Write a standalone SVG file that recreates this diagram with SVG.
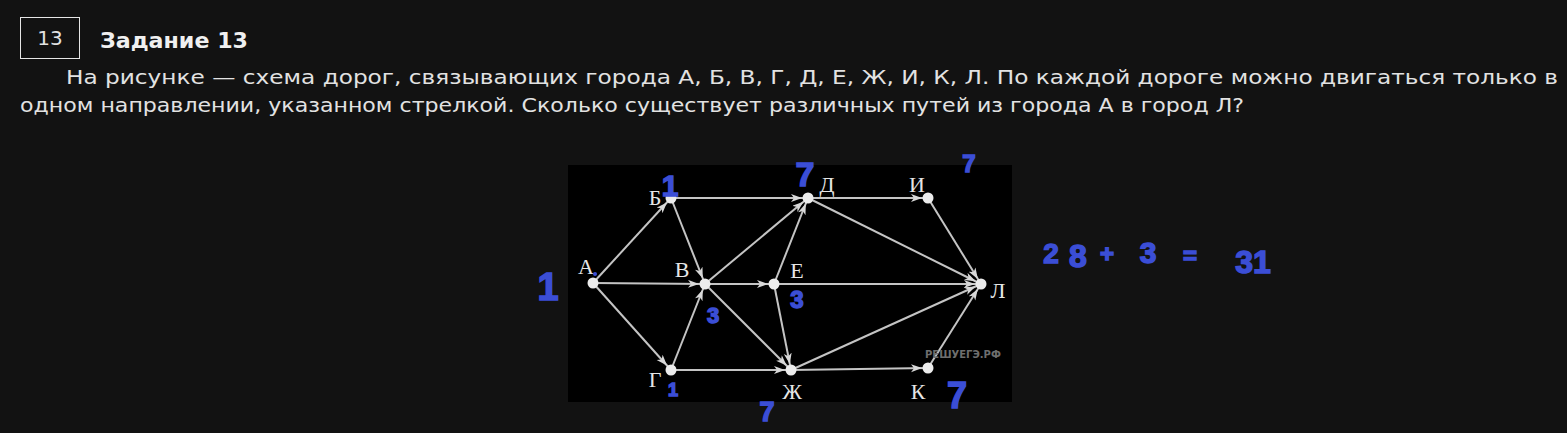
<svg xmlns="http://www.w3.org/2000/svg" width="1567" height="433" viewBox="0 0 1567 433">
<style>
.t{font-family:"DejaVu Sans",Verdana,sans-serif;fill:#e2e2e2;font-size:20px}
.lbl{font-family:"Liberation Serif","Times New Roman",serif;fill:#e6e6e6;font-size:22px;text-anchor:middle}
.e{stroke:#c4c4c4;stroke-width:2;fill:none;marker-end:url(#ar)}
.n{fill:#ececec}
.h{font-family:"Liberation Sans",Arial,sans-serif;fill:#3b4ed6;stroke:#3b4ed6;stroke-width:1.5;font-weight:bold;text-anchor:middle}
</style>
<defs>
<marker id="ar" markerUnits="userSpaceOnUse" markerWidth="20" markerHeight="10" refX="17" refY="4" orient="auto">
<path d="M0,0 L11,4 L0,8 L3,4 Z" fill="#d8d8d8"/>
</marker>
</defs>
<rect width="1567" height="433" fill="#121212"/>
<g id="header">
<rect x="20.5" y="17.5" width="59" height="41" fill="none" stroke="#e6e6e6" stroke-width="1"/>
<text x="50" y="45" class="t" text-anchor="middle" style="font-size:20px">13</text>
<text x="100" y="48" class="t" textLength="148" lengthAdjust="spacingAndGlyphs" style="font-weight:bold;font-size:21px;fill:#f0f0f0">Задание 13</text>
<text x="66" y="84" class="t" textLength="1492" lengthAdjust="spacingAndGlyphs">На рисунке — схема дорог, связывающих города А, Б, В, Г, Д, Е, Ж, И, К, Л. По каждой дороге можно двигаться только в</text>
<text x="20" y="112" class="t" textLength="1224" lengthAdjust="spacingAndGlyphs">одном направлении, указанном стрелкой. Сколько существует различных путей из города А в город Л?</text>
</g>
<rect x="568" y="165" width="444" height="237" fill="#000"/>
<g id="connectors">
<line class="e" x1="593" y1="283" x2="671" y2="198"/>
<line class="e" x1="593" y1="283" x2="705" y2="284"/>
<line class="e" x1="593" y1="283" x2="671" y2="370"/>
<line class="e" x1="671" y1="198" x2="808" y2="198"/>
<line class="e" x1="671" y1="198" x2="705" y2="284"/>
<line class="e" x1="705" y1="284" x2="808" y2="198"/>
<line class="e" x1="705" y1="284" x2="774" y2="284"/>
<line class="e" x1="705" y1="284" x2="791" y2="370"/>
<line class="e" x1="671" y1="370" x2="705" y2="284"/>
<line class="e" x1="671" y1="370" x2="791" y2="370"/>
<line class="e" x1="774" y1="284" x2="808" y2="198"/>
<line class="e" x1="774" y1="284" x2="981" y2="284"/>
<line class="e" x1="774" y1="284" x2="791" y2="370"/>
<line class="e" x1="808" y1="198" x2="928" y2="198"/>
<line class="e" x1="808" y1="198" x2="981" y2="284"/>
<line class="e" x1="928" y1="198" x2="981" y2="284"/>
<line class="e" x1="791" y1="370" x2="981" y2="284"/>
<line class="e" x1="791" y1="370" x2="928" y2="368"/>
<line class="e" x1="928" y1="368" x2="981" y2="284"/>
</g>
<g id="node-A"><circle class="n" cx="593" cy="283" r="5.5"/><text class="lbl" x="586" y="274">А</text></g>
<g id="node-B"><circle class="n" cx="671" cy="198" r="5.5"/><text class="lbl" x="655" y="205">Б</text></g>
<g id="node-V"><circle class="n" cx="705" cy="284" r="5.5"/><text class="lbl" x="682" y="277">В</text></g>
<g id="node-D"><circle class="n" cx="808" cy="198" r="5.5"/><text class="lbl" x="827" y="192">Д</text></g>
<g id="node-I"><circle class="n" cx="928" cy="198" r="5.5"/><text class="lbl" x="917" y="192">И</text></g>
<g id="node-E"><circle class="n" cx="774" cy="284" r="5.5"/><text class="lbl" x="797" y="278">Е</text></g>
<g id="node-L"><circle class="n" cx="981" cy="284" r="5.5"/><text class="lbl" x="998" y="298">Л</text></g>
<g id="node-G"><circle class="n" cx="671" cy="370" r="5.5"/><text class="lbl" x="655" y="387">Г</text></g>
<g id="node-Zh"><circle class="n" cx="791" cy="370" r="5.5"/><text class="lbl" x="792" y="399">Ж</text></g>
<g id="node-K"><circle class="n" cx="928" cy="368" r="5.5"/><text class="lbl" x="918" y="399">К</text></g>
<text x="925" y="358" style="font-family:'DejaVu Sans',sans-serif;font-size:10px;font-weight:bold;fill:#6e6e6e">РЕШУЕГЭ.РФ</text>
<g id="annotations">
<circle cx="595" cy="274" r="2" fill="#3b4ed6"/>
<text class="h" x="670" y="196" style="font-size:30px">1</text>
<text class="h" x="805" y="186" style="font-size:34px">7</text>
<text class="h" x="969" y="172" style="font-size:24px">7</text>
<text class="h" x="548" y="300" style="font-size:38px">1</text>
<text class="h" x="713" y="323" style="font-size:22px">3</text>
<text class="h" x="797" y="308" style="font-size:24px">3</text>
<text class="h" x="673" y="396" style="font-size:18px">1</text>
<text class="h" x="767" y="421" style="font-size:27px">7</text>
<text class="h" x="957" y="408" style="font-size:36px">7</text>
<text class="h" x="1051" y="263" style="font-size:28px">2</text>
<text class="h" x="1078" y="267" style="font-size:32px">8</text>
<text class="h" x="1107" y="262" style="font-size:24px">+</text>
<text class="h" x="1148" y="263" style="font-size:30px">3</text>
<text class="h" x="1190" y="264" style="font-size:24px">=</text>
<text class="h" x="1253" y="273" style="font-size:32px">31</text>
</g>
</svg>
